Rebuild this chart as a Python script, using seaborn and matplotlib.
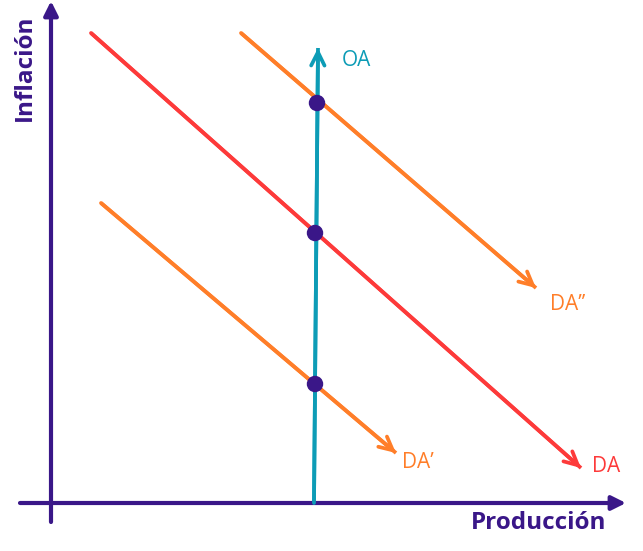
import matplotlib
matplotlib.use("Agg")
import matplotlib.pyplot as plt
import seaborn as sns
import pandas as pd

# curves in (Producción, Inflación) units, origin at the axes crossing
da_x = [0.8, 10.6]
da_y = [9.4, 0.7]
da2_x = [3.8, 9.7]      # DA''
da2_y = [9.4, 4.3]
da1_x = [1.0, 6.9]      # DA'
da1_y = [6.0, 1.0]
oa_x = [5.26, 5.34]
oa_y = [0.0, 9.1]
eq_x = [5.32, 5.28, 5.28]
eq_y = [8.0, 5.4, 2.38]

PURPLE = "#3a1788"
RED = "#fd3a3a"
ORANGE = "#ff7e29"
TEAL = "#0d9cb6"

sns.set_theme(style="white")
plt.rcParams["font.family"] = ["Open Sans", "DejaVu Sans"]

fig = plt.figure(figsize=(6.43, 5.51), dpi=100)
ax = fig.add_axes([0, 0, 1, 1])
ax.set_xlim(-1.02, 11.84)
ax.set_ylim(-0.96, 10.06)
ax.axis("off")

# axes with filled arrow heads
ax.annotate("", xy=(11.5, 0), xytext=(-0.62, 0),
            arrowprops=dict(arrowstyle="-|>,head_length=0.7,head_width=0.35",
                            color=PURPLE, lw=3, shrinkA=0, shrinkB=0))
ax.annotate("", xy=(0, 10.04), xytext=(0, -0.38),
            arrowprops=dict(arrowstyle="-|>,head_length=0.7,head_width=0.35",
                            color=PURPLE, lw=3, shrinkA=0, shrinkB=0))

curves = [
    (da_x, da_y, RED),
    (da2_x, da2_y, ORANGE),
    (da1_x, da1_y, ORANGE),
    (oa_x, oa_y, TEAL),
]
for xs, ys, c in curves:
    df = pd.DataFrame({"x": xs, "y": ys})
    sns.lineplot(data=df, x="x", y="y", ax=ax, color=c, lw=2.7,
                 solid_capstyle="butt")
    ax.annotate("", xy=(xs[1], ys[1]), xytext=(xs[0], ys[0]),
                arrowprops=dict(arrowstyle="->,head_length=0.8,head_width=0.4",
                                color=c, lw=2.7, shrinkA=0, shrinkB=0))

sns.scatterplot(x=eq_x, y=eq_y, ax=ax, color=PURPLE, s=140, marker="o",
                edgecolor="none", zorder=5)

ax.text(5.82, 8.86, "OA", color=TEAL, fontsize=15, va="center")
ax.text(9.97, 3.98, "DA\u2019\u2019", color=ORANGE, fontsize=15, va="center")
ax.text(7.02, 0.82, "DA\u2019", color=ORANGE, fontsize=15, va="center")
ax.text(10.82, 0.72, "DA", color=RED, fontsize=15, va="center")

ax.text(9.76, -0.4, "Producción", color=PURPLE, fontsize=17.5,
        fontweight="bold", ha="center", va="center")
ax.text(-0.52, 8.7, "Inflación", color=PURPLE, fontsize=17.5,
        fontweight="bold", ha="center", va="center", rotation=90)

plt.savefig("out.png", dpi=100)
plt.close()
